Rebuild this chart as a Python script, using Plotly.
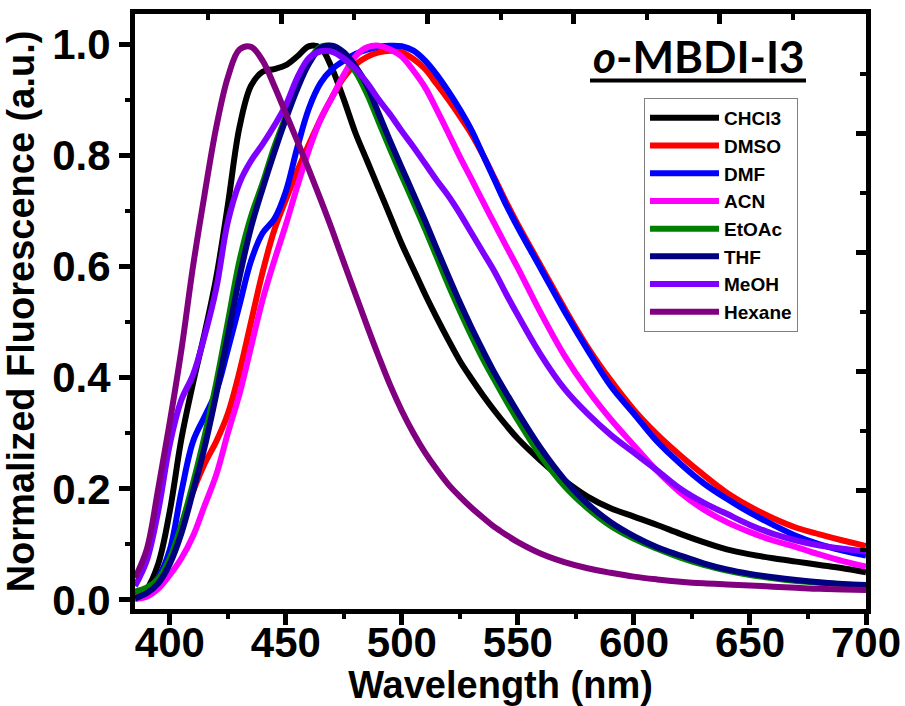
import plotly.graph_objects as go

# ---------------- data ----------------
wavelength = [385, 390, 395, 400, 405, 410, 415, 420, 425, 430, 435, 440, 445, 450, 455, 460, 465,
              470, 475, 480, 485, 490, 495, 500, 505, 510, 515, 520, 525, 530, 535, 540, 545, 550,
              560, 570, 580, 590, 600, 610, 620, 630, 640, 650, 660, 670, 680, 690, 700]

chcl3 = [0.008, 0.02, 0.065, 0.16, 0.29, 0.39, 0.48, 0.58, 0.71, 0.85, 0.925, 0.95, 0.955, 0.962, 0.978, 0.996, 0.993,
         0.955, 0.90, 0.84, 0.79, 0.74, 0.69, 0.64, 0.595, 0.55, 0.508, 0.468, 0.43, 0.398, 0.368, 0.34, 0.314, 0.29,
         0.25, 0.215, 0.186, 0.165, 0.15, 0.135, 0.119, 0.104, 0.091, 0.082, 0.075, 0.069, 0.063, 0.057, 0.05]

dmso = [0.005, 0.015, 0.04, 0.08, 0.135, 0.195, 0.245, 0.285, 0.335, 0.41, 0.50, 0.59, 0.665, 0.72, 0.772, 0.82, 0.865,
        0.905, 0.94, 0.963, 0.977, 0.985, 0.988, 0.985, 0.973, 0.955, 0.928, 0.90, 0.87, 0.838, 0.80, 0.758, 0.715, 0.675,
        0.60, 0.525, 0.455, 0.395, 0.342, 0.298, 0.26, 0.225, 0.193, 0.168, 0.147, 0.13, 0.118, 0.107, 0.097]

dmf = [0.002, 0.012, 0.04, 0.09, 0.195, 0.285, 0.33, 0.375, 0.45, 0.53, 0.61, 0.66, 0.685, 0.735, 0.815, 0.885, 0.93,
       0.955, 0.97, 0.982, 0.99, 0.995, 0.997, 0.996, 0.988, 0.97, 0.945, 0.915, 0.882, 0.845, 0.80, 0.755, 0.71, 0.67,
       0.595, 0.52, 0.45, 0.385, 0.335, 0.285, 0.245, 0.21, 0.182, 0.157, 0.135, 0.115, 0.10, 0.089, 0.08]

acn = [0.002, 0.006, 0.02, 0.045, 0.075, 0.115, 0.17, 0.225, 0.30, 0.37, 0.455, 0.54, 0.61, 0.675, 0.745, 0.81, 0.865,
       0.905, 0.945, 0.978, 0.994, 0.997, 0.99, 0.977, 0.952, 0.922, 0.882, 0.84, 0.797, 0.757, 0.716, 0.676, 0.636, 0.597,
       0.515, 0.44, 0.378, 0.325, 0.278, 0.232, 0.193, 0.163, 0.14, 0.122, 0.107, 0.095, 0.082, 0.07, 0.06]

etoac = [0.015, 0.022, 0.038, 0.075, 0.135, 0.21, 0.295, 0.39, 0.50, 0.61, 0.69, 0.75, 0.815, 0.87, 0.925, 0.97, 0.995,
         0.995, 0.975, 0.95, 0.91, 0.86, 0.81, 0.762, 0.715, 0.667, 0.617, 0.567, 0.52, 0.475, 0.433, 0.395, 0.358, 0.323,
         0.258, 0.205, 0.165, 0.133, 0.11, 0.092, 0.076, 0.063, 0.053, 0.045, 0.039, 0.034, 0.031, 0.028, 0.026]

thf = [0.003, 0.012, 0.03, 0.065, 0.12, 0.195, 0.275, 0.37, 0.475, 0.58, 0.67, 0.74, 0.805, 0.865, 0.92, 0.965, 0.993,
       0.997, 0.985, 0.96, 0.925, 0.875, 0.825, 0.777, 0.73, 0.682, 0.632, 0.583, 0.535, 0.49, 0.448, 0.408, 0.372, 0.337,
       0.272, 0.217, 0.173, 0.14, 0.115, 0.095, 0.08, 0.066, 0.055, 0.047, 0.041, 0.036, 0.032, 0.029, 0.027]

meoh = [0.025, 0.07, 0.16, 0.28, 0.36, 0.405, 0.475, 0.56, 0.68, 0.75, 0.79, 0.82, 0.853, 0.89, 0.94, 0.975, 0.987,
        0.986, 0.974, 0.955, 0.93, 0.90, 0.873, 0.843, 0.815, 0.785, 0.755, 0.727, 0.695, 0.66, 0.625, 0.59, 0.55, 0.512,
        0.44, 0.38, 0.335, 0.297, 0.265, 0.233, 0.20, 0.175, 0.155, 0.135, 0.119, 0.107, 0.098, 0.092, 0.087]

hexane = [0.04, 0.09, 0.20, 0.32, 0.45, 0.60, 0.73, 0.85, 0.94, 0.99, 0.995, 0.97, 0.925, 0.875, 0.825, 0.773, 0.72,
          0.665, 0.607, 0.55, 0.493, 0.438, 0.386, 0.34, 0.30, 0.265, 0.235, 0.208, 0.186, 0.166, 0.148, 0.131, 0.117, 0.104,
          0.083, 0.068, 0.057, 0.049, 0.042, 0.037, 0.033, 0.03, 0.028, 0.026, 0.024, 0.022, 0.02, 0.019, 0.018]

series_names = ["CHCl3", "DMSO", "DMF", "ACN", "EtOAc", "THF", "MeOH", "Hexane"]
series_y = [chcl3, dmso, dmf, acn, etoac, thf, meoh, hexane]
series_colors = ["#000000", "#FF0000", "#0000FF", "#FF00FF", "#008000", "#000080", "#8000FF", "#800080"]

x_ticks = [400, 450, 500, 550, 600, 650, 700]
y_ticks = [0.0, 0.2, 0.4, 0.6, 0.8, 1.0]

FONT = "Liberation Sans, Arial, sans-serif"

# plot-area geometry (pixels)
L, R, T, B = 135, 866, 14, 609
W, H = R - L, B - T


def px(xp):
    return (xp - L) / W


def py(yp):
    return (B - yp) / H


fig = go.Figure()
for name, ys, col in zip(series_names, series_y, series_colors):
    fig.add_trace(go.Scatter(
        x=wavelength, y=ys, mode="lines", name=name,
        line=dict(color=col, width=6, shape="spline", smoothing=1.0),
    ))

# empty trace to carry the mirrored (top / right) inside-tick axes
fig.add_trace(go.Scatter(x=[], y=[], xaxis="x2", yaxis="y2", showlegend=False, hoverinfo="skip"))

fig.update_layout(
    width=905, height=706,
    margin=dict(l=L, r=905 - R, t=T, b=706 - B, autoexpand=False),
    paper_bgcolor="white", plot_bgcolor="white",
    font=dict(family=FONT, color="black"),
    showlegend=True,
    legend=dict(
        x=px(644), y=py(98), xanchor="left", yanchor="top",
        bgcolor="white", bordercolor="#808080", borderwidth=1,
        font=dict(family=FONT, size=19, weight="bold", color="black"),
        traceorder="normal", itemwidth=69,
    ),
    xaxis=dict(
        range=[385, 700], tickvals=x_ticks, automargin=False,
        ticks="outside", ticklen=11, tickwidth=5, tickcolor="black",
        showline=True, linewidth=5, linecolor="black", mirror=False,
        showgrid=False, zeroline=False, ticklabelstandoff=-18,
        tickfont=dict(family=FONT, size=42, weight="bold"),
        minor=dict(dtick=25, tick0=400, ticks="outside", ticklen=5, tickwidth=4, tickcolor="black"),
        title=dict(text="Wavelength (nm)", font=dict(family=FONT, size=38, weight="bold"), standoff=2),
    ),
    yaxis=dict(
        range=[-0.0162, 1.054], tickvals=y_ticks, tickformat=".1f", automargin=False,
        ticks="outside", ticklen=11, tickwidth=5, tickcolor="black",
        showline=True, linewidth=5, linecolor="black", mirror=False,
        showgrid=False, zeroline=False,
        tickfont=dict(family=FONT, size=42, weight="bold"),
        minor=dict(dtick=0.1, tick0=0, ticks="outside", ticklen=5, tickwidth=4, tickcolor="black"),
        title=dict(text="Normalized Fluorescence (a.u.)", font=dict(family=FONT, size=38, weight="bold"), standoff=14),
    ),
    xaxis2=dict(
        overlaying="x", side="top", anchor="y2", range=[0, 10], automargin=False,
        tick0=0, dtick=2, ticks="inside", ticklen=10, tickwidth=5, tickcolor="black",
        showticklabels=False, showline=True, linewidth=5, linecolor="black",
        showgrid=False, zeroline=False,
        minor=dict(dtick=1, ticks="inside", ticklen=6, tickwidth=4, tickcolor="black"),
    ),
    yaxis2=dict(
        overlaying="y", side="right", anchor="x2", range=[0, 10], automargin=False,
        tick0=0, dtick=2, ticks="inside", ticklen=10, tickwidth=5, tickcolor="black",
        showticklabels=False, showline=True, linewidth=5, linecolor="black",
        showgrid=False, zeroline=False,
        minor=dict(dtick=1, ticks="inside", ticklen=6, tickwidth=4, tickcolor="black"),
    ),
    annotations=[dict(
        text="<i>o</i>-MBDI-I3", xref="paper", yref="paper",
        x=px(699), y=py(56), xanchor="center", yanchor="middle",
        showarrow=False, font=dict(family="Lato, Open Sans, sans-serif", size=44, weight="bold", color="black"),
    )],
    shapes=[dict(
        type="line", xref="paper", yref="paper",
        x0=px(590), x1=px(806), y0=py(80.5), y1=py(80.5),
        line=dict(color="black", width=4),
    )],
)

fig.write_html("out.html")
